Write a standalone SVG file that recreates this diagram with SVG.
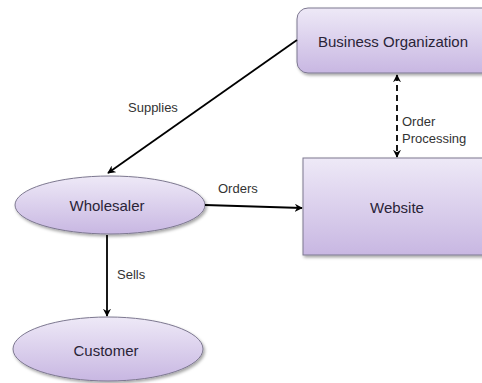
<svg xmlns="http://www.w3.org/2000/svg" width="482" height="383" viewBox="0 0 482 383">
<defs>
<linearGradient id="g" x1="0" y1="0" x2="0" y2="1">
<stop offset="0" stop-color="#eee9f7"/>
<stop offset="1" stop-color="#c8b7e2"/>
</linearGradient>
<filter id="sh" x="-10%" y="-10%" width="130%" height="140%">
<feDropShadow dx="1.5" dy="2" stdDeviation="1.5" flood-color="#000" flood-opacity="0.35"/>
</filter>
<marker id="ah" viewBox="0 0 10 10" refX="9" refY="5" markerWidth="8" markerHeight="8" markerUnits="userSpaceOnUse" orient="auto-start-reverse">
<path d="M0,0 L10,5 L0,10 L3,5 Z" fill="#000"/>
</marker>
</defs>
<style>
.node{fill:url(#g);stroke:#7d7890;stroke-width:1;filter:url(#sh)}
.nt{font-family:"Liberation Sans",Arial,sans-serif;font-size:15px;fill:#2a2438;text-anchor:middle}
.lt{font-family:"Liberation Sans",Arial,sans-serif;font-size:13px;fill:#333}
.c{stroke:#000;stroke-width:1.8;fill:none}
</style>
<rect width="482" height="383" fill="#fff"/>
<g id="business-organization">
<rect class="node" x="297" y="8" width="200" height="65" rx="11"/>
<text class="nt" x="393" y="47">Business Organization</text>
</g>
<g id="website">
<rect class="node" x="303" y="158" width="200" height="97"/>
<text class="nt" x="397" y="213">Website</text>
</g>
<g id="wholesaler">
<ellipse class="node" cx="110" cy="205" rx="95" ry="29"/>
<text class="nt" x="107" y="211">Wholesaler</text>
</g>
<g id="customer">
<ellipse class="node" cx="108" cy="349" rx="95" ry="32"/>
<text class="nt" x="106" y="356">Customer</text>
</g>
<g id="connectors">
<line class="c" x1="297" y1="40" x2="108" y2="173" marker-end="url(#ah)"/>
<line class="c" x1="205" y1="205" x2="302" y2="208" marker-end="url(#ah)"/>
<line class="c" x1="107" y1="235" x2="107" y2="316" marker-end="url(#ah)"/>
<line class="c" x1="397" y1="75" x2="397" y2="157" stroke-dasharray="6,4" marker-start="url(#ah)" marker-end="url(#ah)"/>
<text class="lt" x="128" y="112">Supplies</text>
<text class="lt" x="218" y="193">Orders</text>
<text class="lt" x="117" y="279">Sells</text>
<text class="lt" x="402" y="126">Order</text>
<text class="lt" x="402" y="143">Processing</text>
</g>
</svg>
